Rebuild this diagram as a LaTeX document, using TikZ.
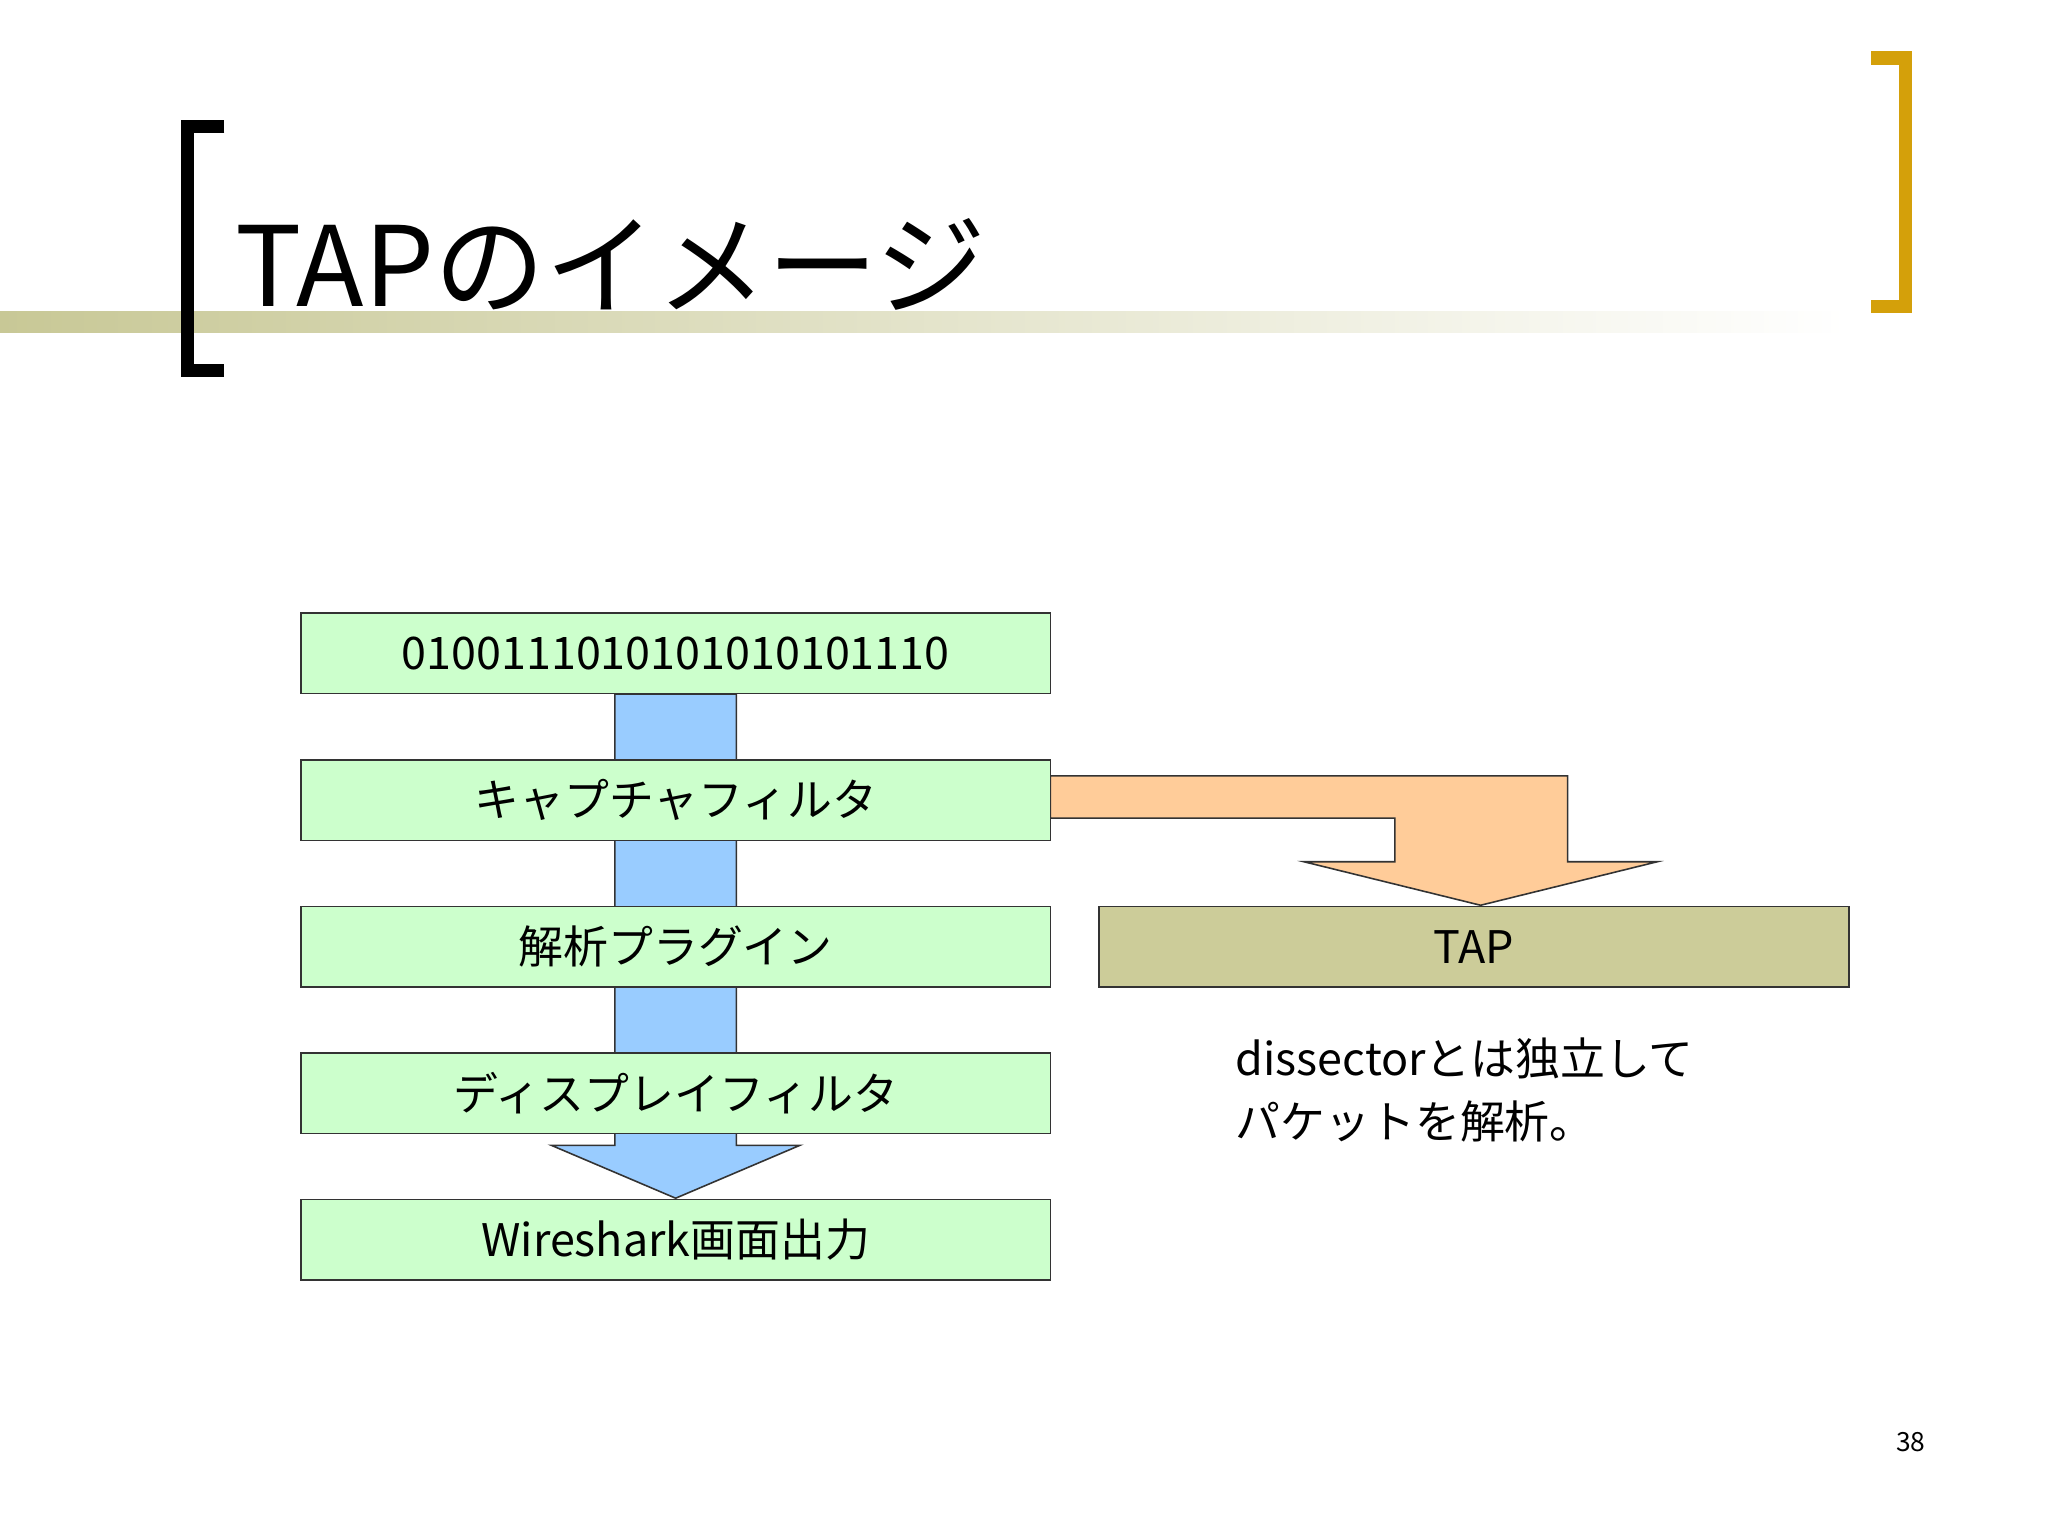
\documentclass[tikz,border=0pt]{standalone}
\usepackage{fontspec}
\setmainfont{Noto Sans CJK JP}
\definecolor{boxg}{HTML}{CCFFCC}
\definecolor{arrb}{HTML}{99CCFF}
\definecolor{arro}{HTML}{FFCC99}
\definecolor{tapc}{HTML}{CCCC99}
\definecolor{gold}{HTML}{D4A00A}
\definecolor{olive}{HTML}{C8C896}
\begin{document}
\begin{tikzpicture}[x=0.5pt,y=-0.5pt,
  gbox/.style={draw=black!80,line width=0.6pt,fill=boxg,minimum width=284pt,minimum height=30.5pt,inner sep=0pt,font=\fontsize{17}{20}\selectfont},
  tbox/.style={gbox,fill=tapc}]
\useasboundingbox (0,0) rectangle (1552,1164);
\fill[white] (0,0) rectangle (1552,1164);
% header line
\shade[left color=olive,right color=white] (0,236) rectangle (1400,252);
% brackets
\draw[line width=5pt] (170,96) -- (142,96) -- (142,281) -- (170,281);
\draw[gold,line width=5pt] (1418,44) -- (1444,44) -- (1444,232) -- (1418,232);
\node[anchor=base west,inner sep=0pt,font=\fontsize{42}{48}\selectfont] (title) at (178,232) {TAPのイメージ};
% arrows
\draw[fill=arrb,draw=black!80,line width=0.6pt] (466,526) -- (466,868) -- (418,868) -- (512,908) -- (606,868) -- (558,868) -- (558,526) -- cycle;
\draw[fill=arro,draw=black!80,line width=0.6pt] (796,588) -- (1188,588) -- (1188,653) -- (1256,653) -- (1122,686) -- (988,653) -- (1057,653) -- (1057,620) -- (796,620) -- cycle;
% boxes
\node[gbox] (b1) at (512,495) {0100111010101010101110};
\node[gbox] (b2) at (512,606.5) {キャプチャフィルタ};
\node[gbox] (b3) at (512,717.5) {解析プラグイン};
\node[gbox] (b4) at (512,828.5) {ディスプレイフィルタ};
\node[gbox] (b5) at (512,939.5) {Wireshark画面出力};
\node[tbox] (tap) at (1117,717.5) {TAP};
\node[anchor=north west,align=left,inner sep=0pt,font=\fontsize{17}{24}\selectfont] (note) at (936,786) {dissectorとは独立して\\パケットを解析。};
\node[font=\fontsize{10}{12}\selectfont] (pg) at (1448,1093) {38};
\end{tikzpicture}
\end{document}
